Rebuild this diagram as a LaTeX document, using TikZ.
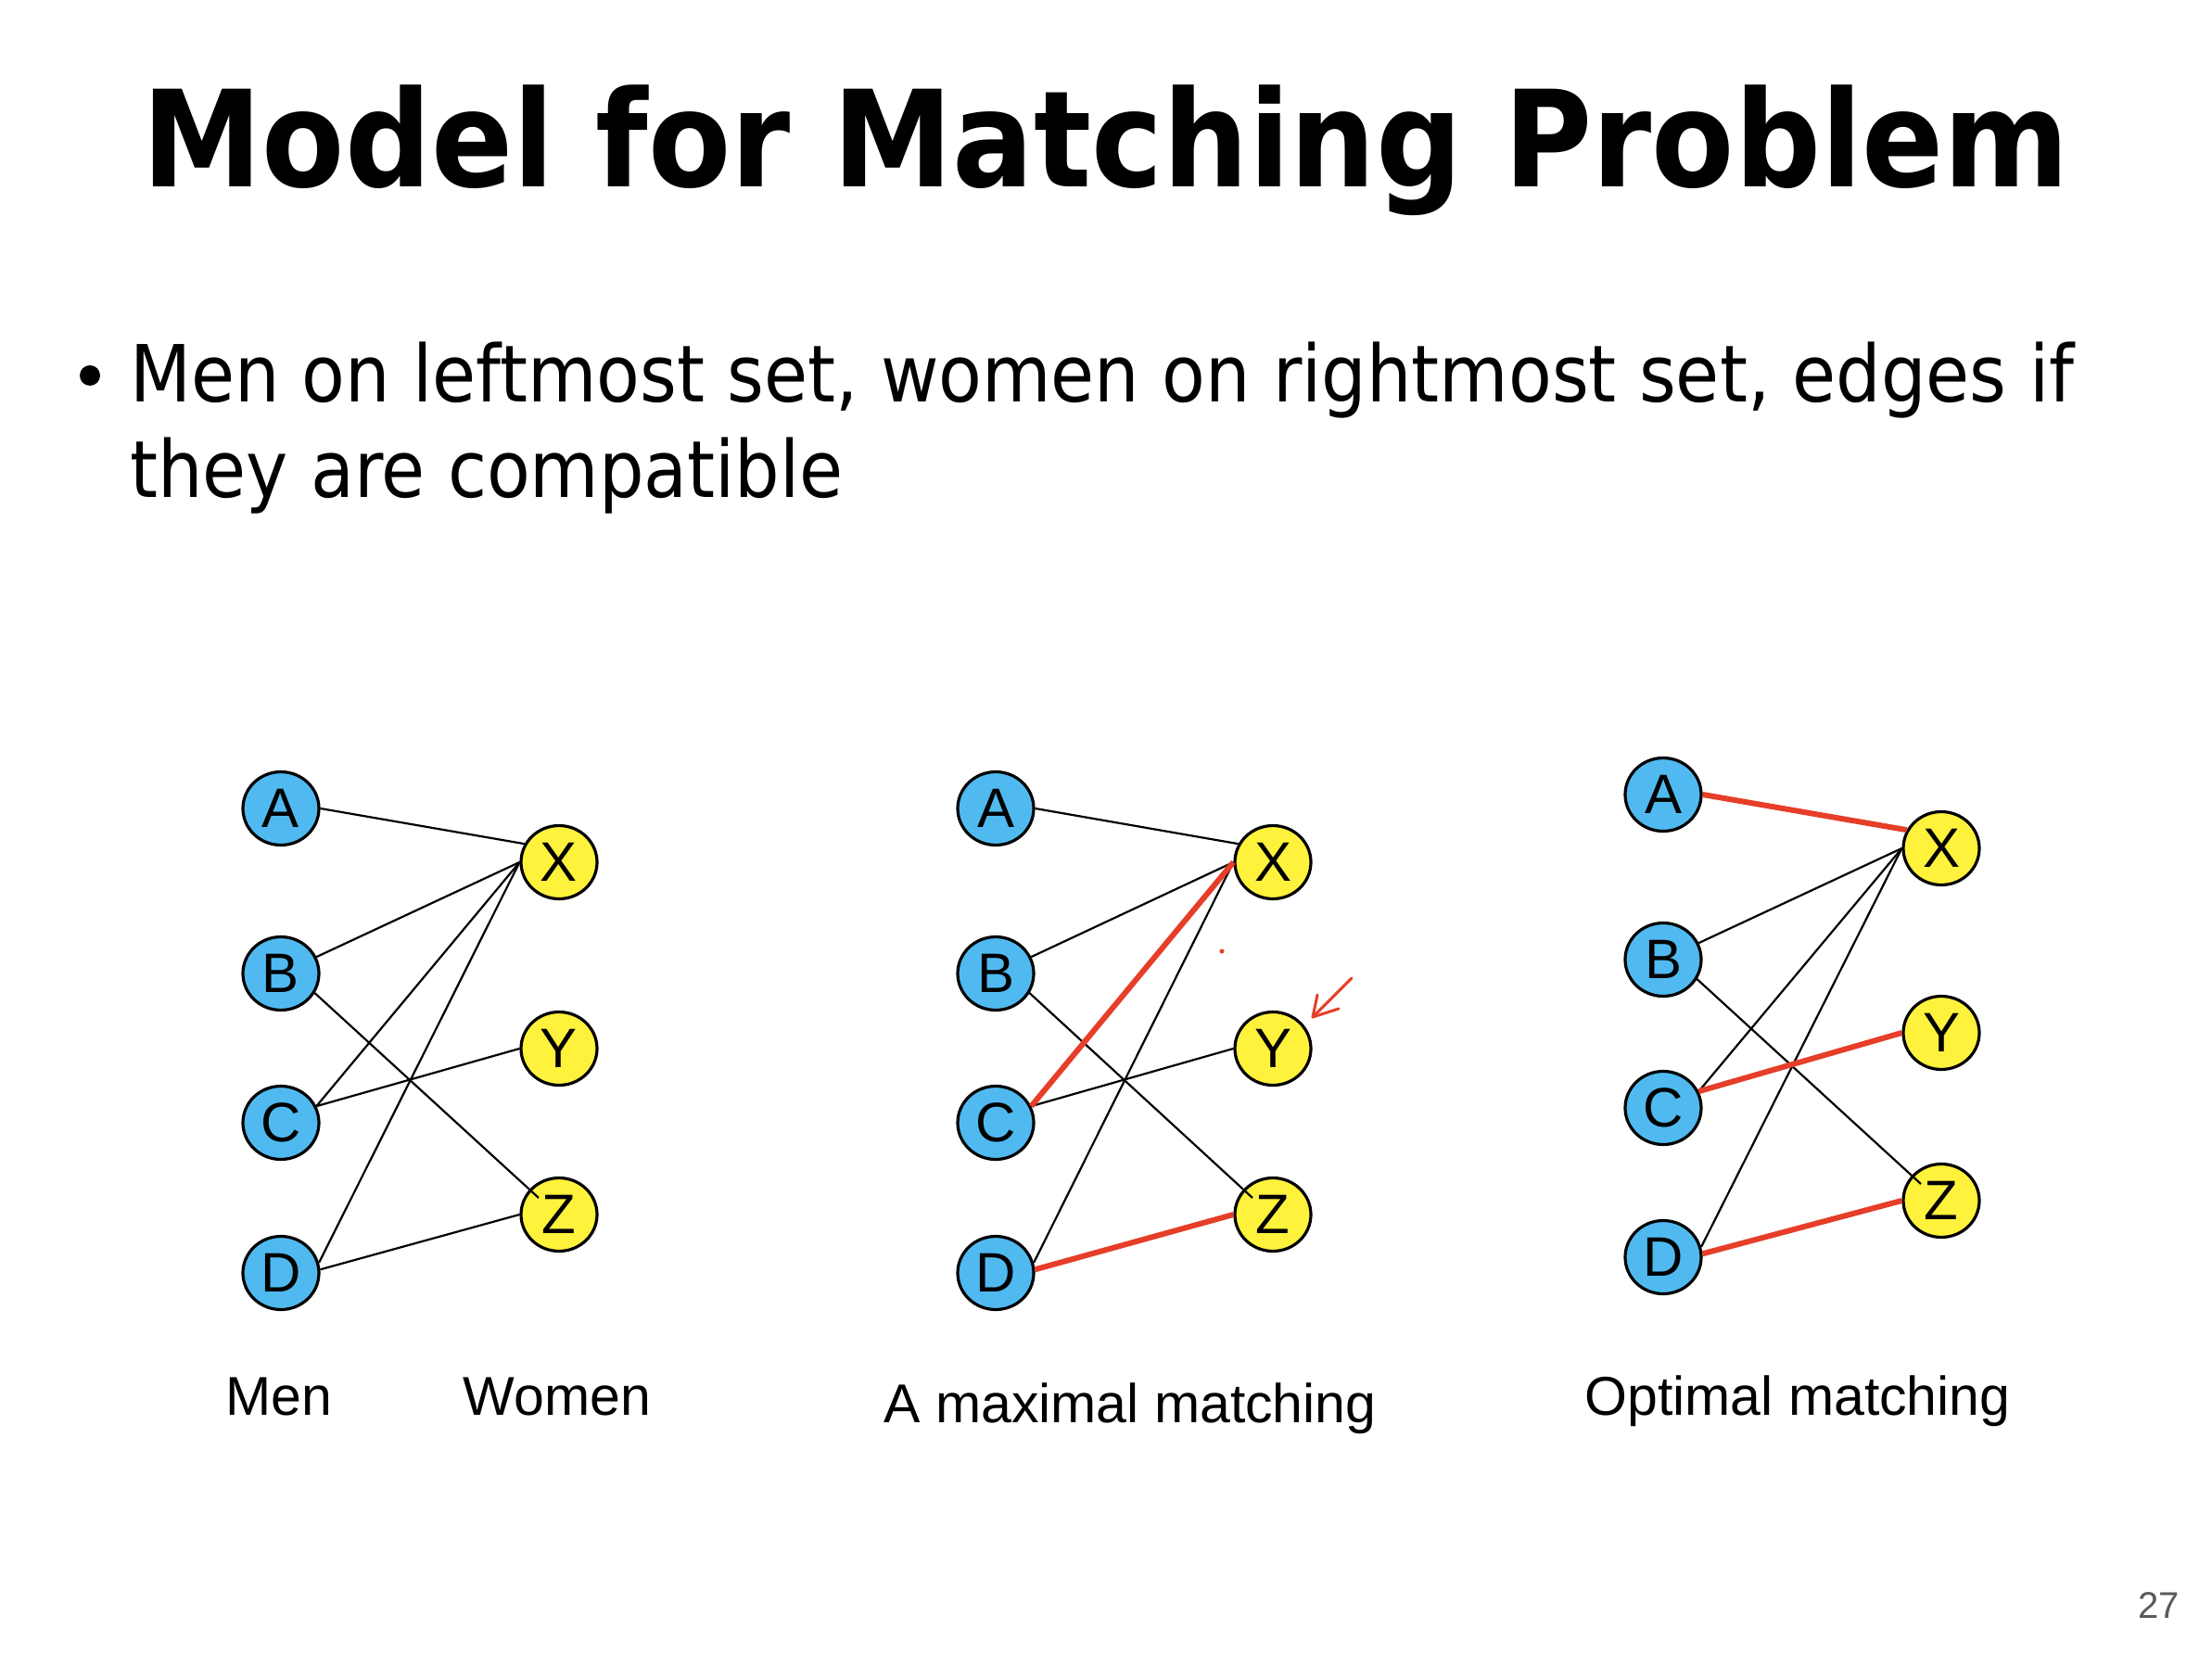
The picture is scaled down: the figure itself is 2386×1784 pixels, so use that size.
\documentclass[tikz,border=0pt]{standalone}
\usepackage{fontspec}
\setmainfont{DejaVu Sans Condensed}
\newfontfamily\titlefont{DejaVu Sans Condensed}[BoldFont={DejaVu Sans Condensed Bold}]
\newfontfamily\arialfont{Liberation Sans}
\usetikzlibrary{shapes.geometric}
\definecolor{nodeblue}{RGB}{80,186,240}
\definecolor{nodeyellow}{RGB}{255,242,60}
\definecolor{matchred}{RGB}{230,62,40}
\definecolor{pagegray}{RGB}{90,90,90}
\tikzset{
  man/.style={ellipse, draw=black, line width=3.2pt, fill=nodeblue, minimum width=82pt, minimum height=79pt, inner sep=0pt, font=\arialfont\fontsize{60}{60}\selectfont},
  woman/.style={man, fill=nodeyellow},
  edge/.style={line width=2.2pt, black},
  matched/.style={line width=6pt, matchred},
  caption/.style={font=\arialfont\fontsize{59}{59}\selectfont, anchor=base},
}
\begin{document}
\begin{tikzpicture}[x=1pt,y=-1pt]
\fill[white] (0,0) rectangle (2386,1784);
\useasboundingbox (0,0) rectangle (2386,1784);

% title
\node[anchor=base, font=\titlefont\bfseries\fontsize{144.5}{144.5}\selectfont] (title) at (1193,202) {Model for Matching Problem};
% bullet
\fill (97,405) circle (11);
\node[anchor=base west, inner sep=0pt, font=\fontsize{85}{85}\selectfont] (line1) at (140,434) {Men on leftmost set, women on rightmost set, edges if};
\node[anchor=base west, inner sep=0pt, font=\fontsize{85}{85}\selectfont] (line2) at (140,536) {they are compatible};

% ---------- left graph ----------
\node[man] (LA) at (303,872) {A};
\node[man] (LB) at (303,1050) {B};
\node[man] (LC) at (303,1211) {C};
\node[man] (LD) at (303,1373) {D};
\node[woman] (LX) at (603,930) {X};
\node[woman] (LY) at (603,1131) {Y};
\node[woman] (LZ) at (603,1310) {Z};
\coordinate (LZin) at ([shift={(-22,-18)}]LZ.center);
\draw[edge] (LA.east) -- (LX.152);
\draw[edge] (LB.25) -- (LX.west);
\draw[edge] (LB.-30) -- (LZin);
\draw[edge] (LC.25) -- (LX.west);
\draw[edge] (LC.25) -- (LY.west);
\draw[edge] (LD.15) -- (LX.west);
\draw[edge] (LD.5) -- (LZ.west);
\node[caption] (capmen) at (301,1526) {Men};
\node[caption] (capwomen) at (601,1526) {Women};

% ---------- middle graph ----------
\node[man] (MA) at (1074,872) {A};
\node[man] (MB) at (1074,1050) {B};
\node[man] (MC) at (1074,1211) {C};
\node[man] (MD) at (1074,1373) {D};
\node[woman] (MX) at (1373,930) {X};
\node[woman] (MY) at (1373,1131) {Y};
\node[woman] (MZ) at (1373,1310) {Z};
\coordinate (MZin) at ([shift={(-22,-18)}]MZ.center);
\draw[edge] (MA.east) -- (MX.152);
\draw[edge] (MB.25) -- (MX.west);
\draw[edge] (MB.-30) -- (MZin);
\draw[edge] (MC.25) -- (MY.west);
\draw[edge] (MD.15) -- (MX.west);
\draw[matched] (MC.25) -- (MX.west);
\draw[matched] (MD.5) -- (MZ.west);
\node[caption] (capmax) at (1219,1534) {A maximal matching};
% hand-drawn annotation
\coordinate (arrtail) at (1458,1055);
\coordinate (arrtip) at (1416,1097);
\draw[matchred, line width=3pt, line cap=round, line join=round] (arrtail) -- (arrtip);
\draw[matchred, line width=3pt, line cap=round, line join=round] (1421,1073) -- (arrtip) -- (1444,1088);
\fill[matchred] (1318,1026) circle (2.5);

% ---------- right graph ----------
\node[man] (RA) at (1794,857) {A};
\node[man] (RB) at (1794,1035) {B};
\node[man] (RC) at (1794,1195) {C};
\node[man] (RD) at (1794,1356) {D};
\node[woman] (RX) at (2094,915) {X};
\node[woman] (RY) at (2094,1114) {Y};
\node[woman] (RZ) at (2094,1295) {Z};
\coordinate (RZin) at ([shift={(-22,-18)}]RZ.center);
\draw[edge] (RB.25) -- (RX.west);
\draw[edge] (RB.-30) -- (RZin);
\draw[edge] (RC.25) -- (RX.west);
\draw[edge] (RD.15) -- (RX.west);
\draw[matched] (RA.east) -- (RX.152);
\draw[matched] (RC.25) -- (RY.west);
\draw[matched] (RD.5) -- (RZ.west);
\node[caption] (capopt) at (1939,1526) {Optimal matching};

% page number
\node[anchor=base east, inner sep=0pt, text=pagegray, font=\arialfont\fontsize{40}{40}\selectfont] (pagenum) at (2351,1745) {27};
\end{tikzpicture}
\end{document}
